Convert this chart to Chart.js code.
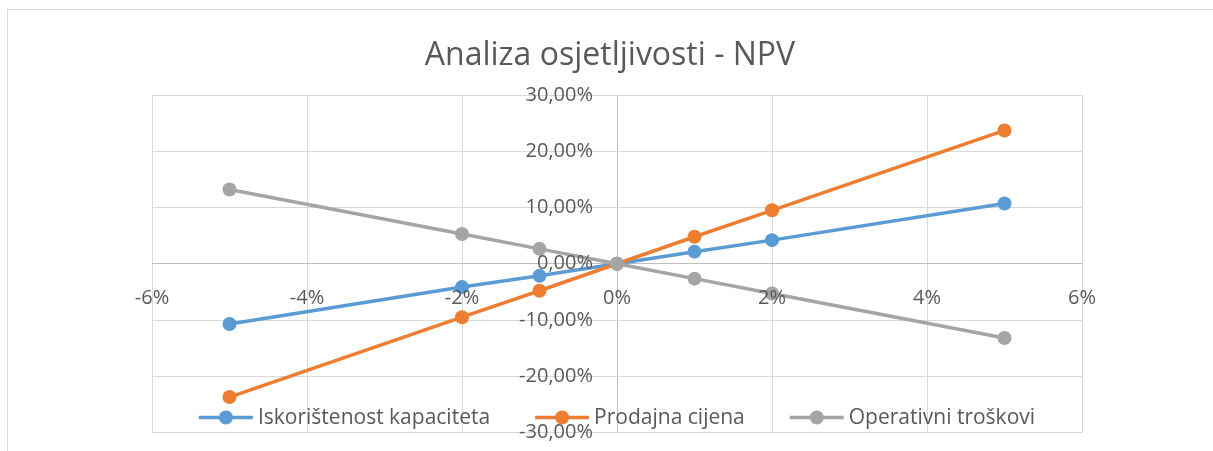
<!DOCTYPE html>
<html>
<head>
<meta charset="utf-8">
<script src="https://cdn.jsdelivr.net/npm/chart.js@4/dist/chart.umd.min.js"></script>
<style>
    html, body { margin: 0; padding: 0; background: #ffffff; overflow: hidden; }
    #frame { position: absolute; left: 7px; top: 9px; width: 1400px; height: 600px; border: 1px solid #d9d9d9; }
    #chart { position: absolute; left: 0; top: 0; }
</style>
</head>
<body>
<div id="frame"></div>
<canvas id="chart" width="1213" height="451"></canvas>
<script>
// Data (values in %)
const xValues = [-5, -2, -1, 0, 1, 2, 5];
const iskoristenost = [-10.7, -4.15, -2.15, 0, 2.15, 4.2, 10.7];
const prodajnaCijena = [-23.7, -9.5, -4.8, 0, 4.8, 9.5, 23.7];
const operativniTroskovi = [13.2, 5.3, 2.65, 0, -2.65, -5.3, -13.2];
const seriesNames = ['Iskorištenost kapaciteta', 'Prodajna cijena', 'Operativni troškovi'];
const seriesColors = ['#5b9bd5', '#ed7d31', '#a5a5a5'];
const xTicks = [-6, -4, -2, 0, 2, 4, 6];
const yTicks = [-30, -20, -10, 0, 10, 20, 30];

const textColor = '#595959';
const gridColor = '#d9d9d9';
const axisColor = '#bfbfbf';

Chart.defaults.font.family = "'Open Sans', sans-serif";
Chart.defaults.color = textColor;

function toPoints(values) {
    return xValues.map((x, i) => ({ x: x, y: values[i] }));
}

function makeDataset(i, values, order) {
    return {
        label: seriesNames[i],
        data: toPoints(values),
        borderColor: seriesColors[i],
        backgroundColor: seriesColors[i],
        borderWidth: 3.5,
        pointRadius: 7,
        pointHoverRadius: 7,
        pointBorderWidth: 0,
        pointBackgroundColor: seriesColors[i],
        tension: 0,
        order: order
    };
}

// Legend drawn inside the plot area, like the Excel original
const insideLegend = {
    id: 'insideLegend',
    afterLayout(chart) {
        // title sits a little left of the plot centre in the original
        if (chart.titleBlock) {
            chart.titleBlock.left -= 7;
            chart.titleBlock.right -= 7;
        }
    },
    afterDraw(chart) {
        const { ctx, chartArea } = chart;
        const lineLen = 54;
        const textGap = 5;
        const itemGap = 45;
        ctx.save();
        ctx.font = "21px 'Open Sans', sans-serif";
        const items = chart.data.datasets.map(ds => ({
            ds: ds,
            w: lineLen + textGap + ctx.measureText(ds.label).width
        }));
        const total = items.reduce((a, it) => a + it.w, 0) + itemGap * (items.length - 1);
        let x = (chartArea.left + chartArea.right) / 2 - total / 2;
        const y = chartArea.bottom - 15;
        items.forEach(it => {
            ctx.strokeStyle = it.ds.borderColor;
            ctx.lineWidth = 3.5;
            ctx.beginPath();
            ctx.moveTo(x, y);
            ctx.lineTo(x + lineLen, y);
            ctx.stroke();
            ctx.fillStyle = it.ds.borderColor;
            ctx.beginPath();
            ctx.arc(x + lineLen / 2, y, 7, 0, Math.PI * 2);
            ctx.fill();
            ctx.fillStyle = textColor;
            ctx.textBaseline = 'middle';
            ctx.textAlign = 'left';
            ctx.fillText(it.ds.label, x + lineLen + textGap, y + 1);
            x += it.w + itemGap;
        });
        ctx.restore();
    }
};

const noPadding = (axis) => {
    axis.paddingTop = 0;
    axis.paddingBottom = 0;
    axis.paddingLeft = 0;
    axis.paddingRight = 0;
};

const ctx = document.getElementById('chart').getContext('2d');
new Chart(ctx, {
    type: 'line',
    data: {
        datasets: [
            makeDataset(0, iskoristenost, 2),
            makeDataset(1, prodajnaCijena, 1),
            makeDataset(2, operativniTroskovi, 0)
        ]
    },
    options: {
        responsive: false,
        animation: false,
        layout: {
            padding: { left: 152, right: 131, top: 0, bottom: 18.5 }
        },
        scales: {
            x: {
                type: 'linear',
                position: { y: 0 },
                min: -6,
                max: 6,
                afterBuildTicks: (axis) => { axis.ticks = xTicks.map(v => ({ value: v })); },
                afterFit: noPadding,
                ticks: {
                    z: 1,
                    padding: 23,
                    maxRotation: 0,
                    font: { size: 20 },
                    color: textColor,
                    callback: (v) => v + '%'
                },
                grid: {
                    color: (c) => (c.tick && c.tick.value === 0 ? axisColor : gridColor),
                    lineWidth: 1,
                    drawTicks: false
                },
                border: { color: axisColor, width: 1 }
            },
            y: {
                type: 'linear',
                // labels sit a gap left of the zero line; the zero line itself is the x grid line
                position: { x: -0.31 },
                min: -30,
                max: 30,
                afterBuildTicks: (axis) => { axis.ticks = yTicks.map(v => ({ value: v })); },
                afterFit: noPadding,
                ticks: {
                    z: 1,
                    font: { size: 20 },
                    color: textColor,
                    callback: (v) => v.toFixed(2).replace('.', ',') + '%'
                },
                grid: {
                    color: (c) => (c.tick && c.tick.value === 0 ? axisColor : gridColor),
                    lineWidth: 1,
                    drawTicks: false
                },
                border: { display: false }
            }
        },
        plugins: {
            legend: { display: false },
            tooltip: { enabled: false },
            title: {
                display: true,
                text: 'Analiza osjetljivosti - NPV',
                color: textColor,
                font: { size: 32, weight: 'normal' },
                padding: { top: 37, bottom: 19.6 }
            }
        }
    },
    plugins: [insideLegend]
});
</script>
</body>
</html>
